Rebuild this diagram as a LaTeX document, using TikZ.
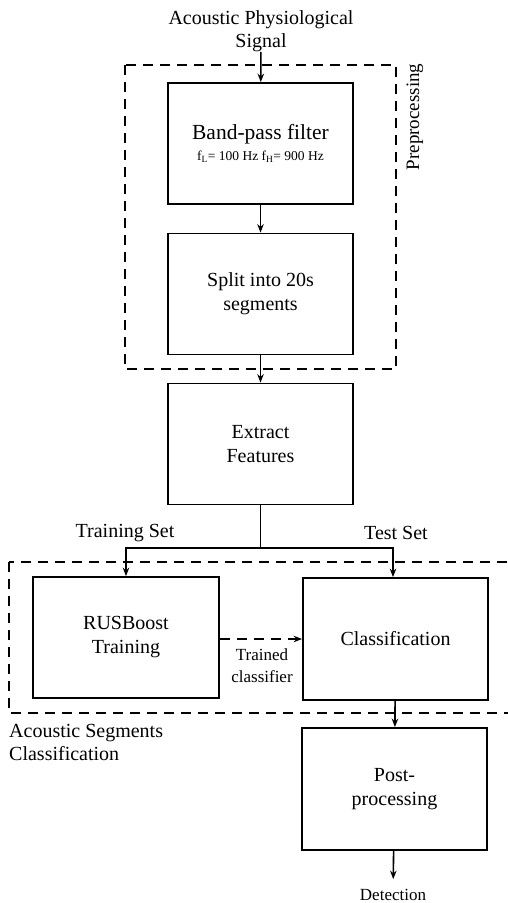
\documentclass[tikz,border=0pt]{standalone}
\usepackage{fontspec}
\setmainfont{Liberation Serif}
\usetikzlibrary{arrows.meta,positioning}

\begin{document}
\begin{tikzpicture}[x=1pt, y=-1pt,
    stage/.style={draw, line width=1.8pt, minimum width=185pt, minimum height=121pt,
        inner sep=0pt, align=center, font=\fontsize{20}{24}\selectfont},
    lbl/.style={align=center, inner sep=0pt, font=\fontsize{20}{23}\selectfont},
    small/.style={align=center, inner sep=0pt, font=\fontsize{17}{22}\selectfont},
    flow/.style={-{Stealth[length=8.5pt,width=6.5pt]}, line width=1.6pt},
    group/.style={line width=1.6pt, dash pattern=on 10pt off 7pt}]
    \useasboundingbox (0,0) rectangle (508,903);
    % Dashed groups
    \draw[group] (125,65) rectangle (396,369);
    \draw[group] (9,562) rectangle (515,713);
    \node[lbl, rotate=90, font=\fontsize{19}{22}\selectfont] (prelbl) at (415,117) {Preprocessing};
    \node[lbl, anchor=west, align=left] (clslbl) at (9,742) {Acoustic Segments\\Classification};
    % Stages
    \node[lbl] (signal) at (261,31) {Acoustic Physiological\\Signal};
    \node[stage] (bp) at (260.5,143.5) {{\fontsize{21.5}{24}\selectfont Band-pass filter}\\[-3pt]
        {\fontsize{13.5}{15}\selectfont f\textsubscript{L}= 100 Hz f\textsubscript{H}= 900 Hz}};
    \node[stage] (split) at (260.5,294) {Split into 20s\\segments};
    \node[stage] (extract) at (260.5,444) {Extract\\Features};
    \node[stage, minimum width=186pt] (rus) at (126,637.5) {RUSBoost\\Training};
    \node[stage, minimum height=122pt] (cls) at (395.5,639) {Classification};
    \node[stage, minimum height=122pt] (post) at (394.5,789) {Post-\\processing};
    \node[small] (det) at (393,895) {Detection};
    % Set labels
    \node[lbl] (trainlbl) at (125,533) {Training Set};
    \node[lbl] (testlbl) at (396,533) {Test Set};
    \node[small] (trained) at (262,666) {Trained\\classifier};
    % Connectors
    \draw[flow] (signal) -- (bp);
    \draw[flow] (bp) -- (split);
    \draw[flow] (split) -- (extract);
    \coordinate (fork) at (260.5,548);
    \draw[line width=1.6pt] (extract.south) -- (fork);
    \draw[flow] (fork) -| (rus.north);
    \draw[flow] (fork) -| ([xshift=-2.5pt]cls.north);
    \draw[flow, dash pattern=on 10pt off 7pt] (rus.east |- 0,639) -- (cls.west |- 0,639);
    \draw[flow] (cls) -- (post);
    \draw[flow, shorten >=10pt] (post) -- (det);
\end{tikzpicture}
\end{document}
